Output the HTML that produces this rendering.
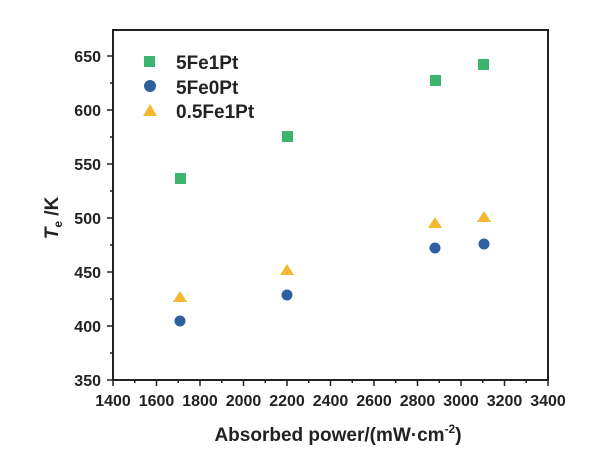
<!DOCTYPE html><html><head><style>body{margin:0;background:#fff}</style></head><body>
<svg width="615" height="463" xmlns="http://www.w3.org/2000/svg" font-family="Liberation Sans, Arial, sans-serif" font-weight="bold">
<rect x="113" y="30" width="435" height="350" fill="none" stroke="#222" stroke-width="2"/>
<g stroke="#222" stroke-width="1.5">
<line x1="107" y1="56" x2="113" y2="56"/><line x1="107" y1="110" x2="113" y2="110"/><line x1="107" y1="164" x2="113" y2="164"/><line x1="107" y1="218" x2="113" y2="218"/><line x1="107" y1="272" x2="113" y2="272"/><line x1="107" y1="326" x2="113" y2="326"/><line x1="107" y1="380" x2="113" y2="380"/>
<line x1="110" y1="83" x2="113" y2="83"/><line x1="110" y1="137" x2="113" y2="137"/><line x1="110" y1="191" x2="113" y2="191"/><line x1="110" y1="245" x2="113" y2="245"/><line x1="110" y1="299" x2="113" y2="299"/><line x1="110" y1="353" x2="113" y2="353"/>
<line x1="113" y1="380" x2="113" y2="386"/><line x1="156.5" y1="380" x2="156.5" y2="386"/><line x1="200" y1="380" x2="200" y2="386"/><line x1="243.5" y1="380" x2="243.5" y2="386"/><line x1="287" y1="380" x2="287" y2="386"/><line x1="330.5" y1="380" x2="330.5" y2="386"/><line x1="374" y1="380" x2="374" y2="386"/><line x1="417.5" y1="380" x2="417.5" y2="386"/><line x1="461" y1="380" x2="461" y2="386"/><line x1="504.5" y1="380" x2="504.5" y2="386"/><line x1="548" y1="380" x2="548" y2="386"/>
<line x1="134.75" y1="380" x2="134.75" y2="383"/><line x1="178.25" y1="380" x2="178.25" y2="383"/><line x1="221.75" y1="380" x2="221.75" y2="383"/><line x1="265.25" y1="380" x2="265.25" y2="383"/><line x1="308.75" y1="380" x2="308.75" y2="383"/><line x1="352.25" y1="380" x2="352.25" y2="383"/><line x1="395.75" y1="380" x2="395.75" y2="383"/><line x1="439.25" y1="380" x2="439.25" y2="383"/><line x1="482.75" y1="380" x2="482.75" y2="383"/><line x1="526.25" y1="380" x2="526.25" y2="383"/>
</g>
<g font-size="16" fill="#222" text-anchor="end">
<text x="101" y="62">650</text><text x="101" y="116">600</text><text x="101" y="170">550</text><text x="101" y="224">500</text><text x="101" y="278">450</text><text x="101" y="332">400</text><text x="101" y="386">350</text>
</g>
<g font-size="16" fill="#222" text-anchor="middle">
<text x="113" y="406">1400</text><text x="156.5" y="406">1600</text><text x="200" y="406">1800</text><text x="243.5" y="406">2000</text><text x="287" y="406">2200</text><text x="330.5" y="406">2400</text><text x="374" y="406">2600</text><text x="417.5" y="406">2800</text><text x="461" y="406">3000</text><text x="504.5" y="406">3200</text><text x="548" y="406">3400</text>
</g>
<text x="338" y="441" font-size="19" fill="#222" text-anchor="middle">Absorbed power/(mW·cm<tspan dy="-8" font-size="12">-2</tspan><tspan dy="8">)</tspan></text>
<text transform="translate(58,218) rotate(-90)" font-size="19" fill="#222" text-anchor="middle"><tspan font-style="italic">T</tspan><tspan font-size="12" dy="4">e</tspan><tspan dy="-4"> /K</tspan></text>
<g fill="#3cb46e">
<rect x="144" y="56" width="11" height="11"/>
<rect x="175" y="173" width="11" height="11"/><rect x="282" y="131" width="11" height="11"/><rect x="430" y="75" width="11" height="11"/><rect x="478" y="59" width="11" height="11"/>
</g>
<g fill="#2e5f9e">
<circle cx="150" cy="86" r="6"/>
<circle cx="180" cy="321" r="5.5"/><circle cx="287" cy="295" r="5.5"/><circle cx="435" cy="248" r="5.5"/><circle cx="484" cy="244" r="5.5"/>
</g>
<g fill="#f5b82e">
<polygon points="150,104 157,116 143,116"/>
<polygon points="180,291 187,302 173,302"/><polygon points="287,264 294,275 280,275"/><polygon points="435,217 442,228 428,228"/><polygon points="484,211 491,222 477,222"/>
</g>
<g font-size="19" fill="#222">
<text x="176" y="69">5Fe1Pt</text><text x="176" y="94">5Fe0Pt</text><text x="176" y="118">0.5Fe1Pt</text>
</g>
</svg>
</body></html>
